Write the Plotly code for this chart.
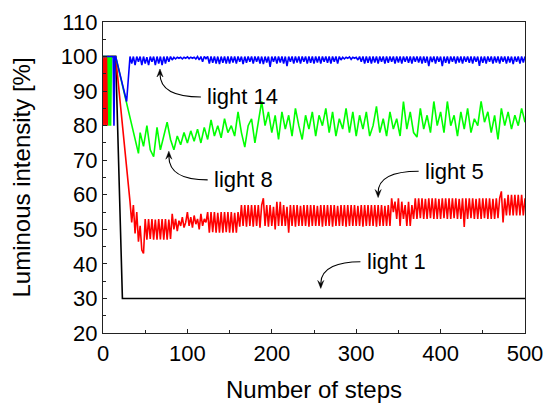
import plotly.graph_objects as go

# ---------------- data ----------------
# light 1 (black)
l1_steps = [0, 15, 23, 500]
l1_vals = [100, 100, 30, 30]

# light 5 (red): head points, then zigzag values every 2 steps from step 32 to 500
l5_head_steps = [0, 1, 2, 3, 4, 5, 6, 15]
l5_head_vals = [100, 80, 100, 80, 100, 80, 100, 100]
l5_tail_start = 32
l5_tail_vals = [
    58, 52, 57, 48.8, 55, 46.4, 51, 44, 43, 53,
    47, 53, 47.2, 53, 47, 52.8, 47, 53, 47.1, 53, 47, 53, 47, 52.8, 47.2,
    54.5, 50, 53, 49.5, 52.5, 51, 53.5, 50.5, 52, 55, 51, 53.5, 50.5, 54, 51.5, 53, 50, 54.5, 51, 53, 52,
    55, 49, 55, 49.2, 55, 49, 54.8, 49, 55, 49, 55, 49.2, 55, 49, 55, 49, 54.8, 49, 55,
    50.8, 57, 51, 57, 50.8, 57, 51, 57, 50.8, 57, 51, 57, 50.5, 57, 59, 51, 57, 50.8, 57, 51,
    56.5, 50, 58, 51, 58, 51, 57, 51, 56.5,
    49, 57, 51, 57, 50.8, 57, 51, 56.8, 51, 57, 51, 57, 50.8, 57, 51, 57, 51, 56.8, 51, 57,
    50.8, 57, 51, 57, 51, 57, 50.8, 57, 51, 56.8, 51, 57, 51, 57, 50.8, 57, 51, 57, 51, 57,
    51, 56.8, 51, 57, 50.8, 57, 51, 57, 51, 57, 51, 57, 50.8, 57, 51, 57, 51, 56.8, 51, 57, 51,
    59, 55, 58, 53, 59, 51, 58, 53, 57, 51, 58, 51, 57, 53,
    59, 53, 59, 53.2, 59, 53, 58.8, 53, 59, 53.2, 59, 53, 59, 53, 58.8, 53, 59, 53.2, 59, 53,
    59, 53, 59, 53.2, 59, 53, 58.8, 53, 59, 50.7, 59, 53, 59, 53.2, 59, 53, 58.8, 53, 59, 53,
    59, 53.2, 59, 53, 59, 53, 58.8, 53, 59, 53.2, 59,
    61, 52, 59, 54, 60, 54, 60, 54, 60, 54, 60, 54, 60, 54, 59,
]

# light 8 (green): head points, then values every 4 steps from step 44 to 500
l8_head_steps = [0, 6, 7, 8, 9, 10, 15, 42]
l8_head_vals = [100, 100, 80, 100, 80, 100, 100, 72]
l8_tail_start = 44
l8_tail_vals = [
    78, 74, 80, 73, 71, 79.5, 73, 77, 81, 76, 73,
    77, 74.5, 78, 75, 78.5, 75.5, 79, 75, 79.5, 76,
    81.7, 77, 80, 76.5, 82, 78, 80, 77, 84, 78, 73.8, 80, 82, 75, 81,
    87, 80, 84, 78, 83, 76, 84, 79, 83, 77, 85, 80, 76, 83,
    79, 84, 77, 83, 80, 85, 78, 84, 77, 82, 79, 85, 78, 84, 77,
    83, 79, 84, 77, 80, 85.6, 78, 82, 77, 84, 79, 82, 77, 87, 79,
    84, 78, 76.7, 85, 79, 83, 78, 87, 80, 84, 78, 87, 80, 83, 77,
    84, 79, 85, 78, 82, 80, 87, 81, 84, 78, 83, 76, 85, 80, 84, 79, 83, 80, 85, 81,
]

# light 14 (blue): head points, then alternating dip / top every 2 steps from step 34 to 500
l14_head_steps = [0, 12, 13, 14, 15, 28, 32]
l14_head_vals = [100, 100, 80, 100, 100, 87, 100]
l14_tail_start = 34
l14_dips = [
    98, 97.5, 98.5, 97.5, 98, 97.5, 98.5, 97.5, 98, 97.5,
    98, 98.5, 99, 99.3, 99.5, 99.3, 99.5, 99.4, 99.5, 99.3,
    99, 98.5, 99.4, 98, 98.2, 98, 97.8, 98.2, 98, 98,
    98.3, 98, 98.5, 97.8, 98.2, 98.5, 98, 98.5, 98, 97.8,
    98.3, 97, 98.5, 98, 98.3, 98, 97.2, 98.5, 98, 98.3,
    98, 98.5, 98, 98.2, 98, 98.3, 98, 98.5, 98.2, 98,
    98.5, 98, 99, 99.3, 99.5, 99.2, 99.5, 99, 98.5, 98,
    98.2, 98, 98.3, 98, 98.5, 98, 98.2, 98.5, 98, 98.3,
    98, 98.5, 98.2, 98, 98.5, 98.3, 98, 98.2, 97.2, 98.4,
    98, 98.5, 97.2, 98.2, 98, 98.5, 98, 98.3, 98, 98.5,
    98.2, 98, 98.5, 97.3, 98.2, 98, 98.5, 98, 98.3, 98,
    98.5, 98, 98.3, 97.8, 98.5, 98, 98.3,
]
l14_tops = [
    100, 100, 100, 100, 99.8, 100, 100, 100, 100, 100,
    100, 100, 99.8, 99.8, 99.8, 99.8, 99.9, 99.8, 99.8, 100,
    100, 100, 100, 100, 100, 100, 100, 100, 100, 100,
    100, 100, 100, 100, 100, 100, 100, 100, 100, 100,
    100, 100, 100, 100, 100, 100, 100, 100, 100, 100,
    100, 100, 100, 100, 100, 100, 100, 100, 100, 100,
    100, 100, 99.8, 99.8, 99.9, 99.8, 99.8, 100, 100, 100,
    100, 100, 100, 100, 100, 100, 100, 100, 100, 100,
    100, 100, 100, 100, 100, 100, 100, 100, 100, 100,
    100, 100, 100, 100, 100, 100, 100, 100, 100, 100,
    100, 100, 100, 100, 100, 100, 100, 100, 100, 100,
    100, 100, 100, 100, 100, 100, 100,
]

labels = ["light 1", "light 5", "light 8", "light 14"]
colors = ["#000000", "#ff0000", "#00ff00", "#0000ff"]

# ---------------- assemble series ----------------
l5_steps = l5_head_steps + [l5_tail_start + 2 * i for i in range(len(l5_tail_vals))]
l5_vals = l5_head_vals + l5_tail_vals

l8_steps = l8_head_steps + [l8_tail_start + 4 * i for i in range(len(l8_tail_vals))]
l8_vals = l8_head_vals + l8_tail_vals

l14_steps = list(l14_head_steps)
l14_vals = list(l14_head_vals)
for i, (d, t) in enumerate(zip(l14_dips, l14_tops)):
    l14_steps += [l14_tail_start + 4 * i, l14_tail_start + 4 * i + 2]
    l14_vals += [d, t]

series = [(l1_steps, l1_vals), (l5_steps, l5_vals), (l8_steps, l8_vals), (l14_steps, l14_vals)]

fig = go.Figure()
for (xs, ys), name, col in zip(series, labels, colors):
    fig.add_trace(go.Scatter(x=xs, y=ys, mode="lines", name=name,
                             line=dict(color=col, width=1.6), showlegend=False))

# ---------------- annotations (curved arrows) ----------------
ann_specs = [
    ("light 14", 121, 88.3, (116, 88.3), (88, 88.3), (67.5, 90), (67.5, 96.4), "up"),
    ("light 8", 129, 64.3, (124, 64.3), (96, 64.3), (78, 66), (78, 72.6), "up"),
    ("light 5", 379, 66.8, (374, 66.8), (345, 66.8), (326, 65), (326, 59.2), "down"),
    ("light 1", 310, 40.6, (305, 40.6), (280, 40.6), (258, 39), (258, 32.9), "down"),
]
hx, hy = 3.6, 2.3  # arrowhead half width (steps) / length (units)
for text, tx, ty, p0, c1, c2, tip, d in ann_specs:
    sgn = 1 if d == "up" else -1
    notch = (tip[0], tip[1] - sgn * hy * 0.6)
    fig.add_shape(type="path",
                  path=f"M {p0[0]},{p0[1]} C {c1[0]},{c1[1]} {c2[0]},{c2[1]} {notch[0]},{notch[1]}",
                  line=dict(color="black", width=1.1), xref="x", yref="y")
    fig.add_shape(type="path",
                  path=(f"M {tip[0]},{tip[1]} L {tip[0]-hx},{tip[1]-sgn*hy} "
                        f"L {notch[0]},{notch[1]} L {tip[0]+hx},{tip[1]-sgn*hy} Z"),
                  fillcolor="black", line=dict(color="black", width=0.5), xref="x", yref="y")
    fig.add_annotation(x=tx, y=ty, text=text, showarrow=False, xanchor="left", yanchor="middle",
                       font=dict(family="Liberation Sans, Arial", size=22, color="black"))

axis_common = dict(
    showline=True, linecolor="#222222", linewidth=1.4, mirror=True,
    ticks="inside", ticklen=4, tickwidth=1.2, tickcolor="#222222",
    showgrid=False, zeroline=False, automargin=False,
    tickfont=dict(family="Liberation Sans, Arial", size=22, color="black"),
)

fig.update_layout(
    width=546, height=403,
    margin=dict(l=103, r=21, t=22, b=70),
    paper_bgcolor="white", plot_bgcolor="white",
    xaxis=dict(range=[0, 500], tickvals=[0, 100, 200, 300, 400, 500],
               minor=dict(tickvals=[50, 150, 250, 350, 450], ticks="inside", ticklen=3,
                          tickcolor="#222222", tickwidth=1),
               title=dict(text="Number of steps", standoff=19,
                          font=dict(family="Liberation Sans, Arial", size=24, color="black")),
               **axis_common),
    yaxis=dict(range=[20, 110], tickvals=[20, 30, 40, 50, 60, 70, 80, 90, 100, 110],
               minor=dict(tickvals=[25, 35, 45, 55, 65, 75, 85, 95, 105], ticks="inside",
                          ticklen=3, tickcolor="#222222", tickwidth=1),
               title=dict(text="Luminous intensity [%]", standoff=23,
                          font=dict(family="Liberation Sans, Arial", size=24, color="black")),
               **axis_common),
)

fig.write_html("out.html", config={"displayModeBar": False},
               post_script="document.body.style.margin='0px';document.body.style.overflow='hidden';")
